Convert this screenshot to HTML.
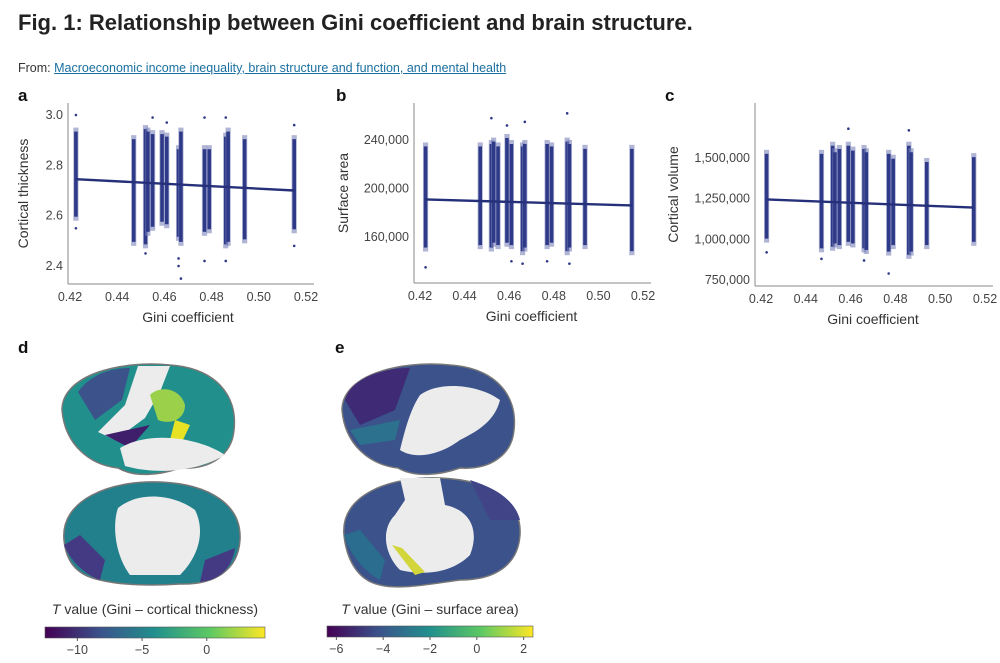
<!DOCTYPE html>
<html><head><meta charset="utf-8">
<style>
body{margin:0;background:#fff;width:1000px;height:663px;overflow:hidden;font-family:"Liberation Sans",sans-serif;}
.title{position:absolute;left:18px;top:10px;font-size:22px;font-weight:bold;color:#222;}
.from{position:absolute;left:18px;top:61px;font-size:12.5px;color:#333;}
.from a{color:#1a6fa0;text-decoration:underline;}
svg{position:absolute;left:0;top:0;}
</style></head><body>
<div class="title">Fig. 1: Relationship between Gini coefficient and brain structure.</div>
<div class="from">From: <a>Macroeconomic income inequality, brain structure and function, and mental health</a></div>
<svg id="fig" width="1000" height="663" font-family="Liberation Sans, sans-serif">
<defs>
<linearGradient id="vir" x1="0" x2="1">
<stop offset="0" stop-color="#440154"/><stop offset="0.25" stop-color="#3b528b"/><stop offset="0.5" stop-color="#21908d"/><stop offset="0.75" stop-color="#5dc963"/><stop offset="1" stop-color="#fde725"/>
</linearGradient>
</defs>
<text x="18" y="353" font-size="17" font-weight="bold" fill="#111">d</text>
<text x="335" y="353" font-size="17" font-weight="bold" fill="#111">e</text>
<!-- brains d -->
<g>
<path d="M62,410 C62,375 120,360 170,365 C215,368 238,395 234,430 C232,455 210,470 180,468 C160,475 135,478 118,468 C90,465 65,445 62,410Z" fill="#21908d" stroke="#777" stroke-width="1.5"/>
<path d="M78,392 C90,375 110,368 130,368 L122,400 L95,420 Z" fill="#3b528b"/>
<path d="M138,366 L170,366 L160,392 L145,418 L115,440 L98,432 L125,405Z" fill="#ececec"/>
<path d="M150,395 C160,385 180,388 185,405 C185,420 170,425 158,420Z" fill="#9ad04a"/>
<path d="M175,420 L190,425 L182,442 L170,440Z" fill="#e7e324"/>
<path d="M105,435 L150,425 L130,448Z" fill="#3f1f6b"/>
<path d="M120,448 C150,430 200,438 225,455 C200,470 160,476 125,466Z" fill="#ececec"/>
</g>
<g>
<path d="M64,540 C60,500 110,480 160,482 C210,484 242,505 240,540 C238,570 215,585 180,584 C150,586 120,585 100,580 C75,575 66,560 64,540Z" fill="#22808d" stroke="#777" stroke-width="1.5"/>
<path d="M118,508 C140,490 175,495 195,510 C205,530 200,555 180,575 L130,575 C115,555 112,525 118,508Z" fill="#ececec"/>
<path d="M64,545 C70,560 85,575 100,580 L105,560 L80,535Z" fill="#443a83"/>
<path d="M205,560 L235,548 C232,568 220,580 200,582Z" fill="#443a83"/>
</g>
<!-- brains e -->
<g>
<path d="M342,410 C342,375 400,360 450,365 C495,368 518,395 514,430 C512,455 490,470 460,468 C440,475 415,478 398,468 C370,465 345,445 342,410Z" fill="#3b528b" stroke="#777" stroke-width="1.5"/>
<path d="M345,400 C350,380 380,368 410,368 L395,410 L360,425 Z" fill="#3f2a76"/>
<path d="M420,395 C440,380 480,385 500,400 C495,420 480,430 460,440 C440,455 415,460 400,450 C405,430 410,410 420,395Z" fill="#ececec"/>
<path d="M350,430 L400,420 L395,440 L360,445Z" fill="#2c728e"/>
</g>
<g>
<path d="M344,535 C340,495 390,476 440,478 C490,480 522,500 520,535 C518,565 495,580 460,580 C430,584 400,590 380,585 C355,580 346,555 344,535Z" fill="#3b528b" stroke="#777" stroke-width="1.5"/>
<path d="M400,478 L440,478 L445,505 C470,510 480,530 470,555 C450,575 420,575 400,570 C385,555 380,530 395,515 L405,500Z" fill="#ececec"/>
<path d="M392,545 L402,548 L425,572 L415,575 Z" fill="#d2d63a"/>
<path d="M344,535 C350,555 365,572 380,580 L385,560 L360,530Z" fill="#2a6d8e"/>
<path d="M470,480 C495,488 515,500 520,520 L490,520 Z" fill="#414487"/>
</g>
<!-- colorbars -->
<g>
<text x="155" y="614" font-size="14" fill="#333" text-anchor="middle"><tspan font-style="italic">T</tspan> value (Gini – cortical thickness)</text>
<rect x="45" y="627" width="220" height="11" fill="url(#vir)" stroke="#555" stroke-width="0.6"/>
</g>
<g>
<text x="430" y="614" font-size="14" fill="#333" text-anchor="middle"><tspan font-style="italic">T</tspan> value (Gini – surface area)</text>
<rect x="327" y="626" width="206" height="11" fill="url(#vir)" stroke="#555" stroke-width="0.6"/>
</g>
<g id="plots"></g>
</svg>
<script>
// shared x data: Gini coefficient of each country column
const gini = [0.4225,0.447,0.452,0.453,0.455,0.459,0.461,0.466,0.467,0.477,0.479,0.486,0.487,0.494,0.515];
// panel a: cortical thickness (dense range lo/hi per column)
const aLo = [2.58,2.48,2.47,2.52,2.54,2.56,2.55,2.50,2.48,2.52,2.53,2.47,2.48,2.49,2.53];
const aHi = [2.95,2.92,2.96,2.95,2.94,2.94,2.93,2.88,2.95,2.88,2.88,2.93,2.95,2.92,2.92];
const aOutX = [0.4225,0.4225,0.452,0.455,0.461,0.466,0.466,0.467,0.477,0.477,0.486,0.486,0.515,0.515];
const aOutY = [3.0,2.55,2.45,2.99,2.97,2.40,2.43,2.35,2.99,2.42,2.99,2.42,2.96,2.48];
const aFit = [2.745,2.70];
const aTicks = [2.4,2.6,2.8,3.0];
const aTickLabels = ["2.4","2.6","2.8","3.0"];
// panel b: surface area
const bLo = [148000,150000,148000,152000,150000,152000,150000,145000,148000,150000,152000,145000,148000,150000,145000];
const bHi = [238000,238000,240000,242000,238000,245000,240000,238000,240000,240000,238000,242000,240000,236000,236000];
const bOutX = [0.4225,0.452,0.461,0.466,0.467,0.477,0.486,0.487,0.459];
const bOutY = [135000,258000,140000,138000,255000,140000,262000,138000,252000];
const bFit = [191000,186000];
const bTicks = [160000,200000,240000];
const bTickLabels = ["160,000","200,000","240,000"];
// panel c: cortical volume
const cLo = [980000,920000,930000,950000,940000,960000,950000,920000,910000,900000,940000,880000,900000,940000,960000];
const cHi = [1550000,1550000,1600000,1560000,1580000,1600000,1570000,1580000,1560000,1550000,1520000,1600000,1560000,1500000,1530000];
const cOutX = [0.459,0.466,0.477,0.486,0.4225,0.447];
const cOutY = [1680000,870000,790000,1670000,920000,880000];
const cFit = [1245000,1195000];
const cTicks = [750000,1000000,1250000,1500000];
const cTickLabels = ["750,000","1,000,000","1,250,000","1,500,000"];
const xTicks = [0.42,0.44,0.46,0.48,0.50,0.52];
const xTickLabels = ["0.42","0.44","0.46","0.48","0.50","0.52"];

const NS="http://www.w3.org/2000/svg";
const root=document.getElementById('plots');
function mk(tag,attrs,parent){const e=document.createElementNS(NS,tag);for(const k in attrs)e.setAttribute(k,attrs[k]);(parent||root).appendChild(e);return e;}
const COL="#2e3a87";
function panel(p){
  const g=mk('g',{});
  
  
  const sx=v=>p.x0+(v-0.42)/(0.10)*(p.x1-p.x0);
  const sy=v=>p.yA+(v-p.vA)/(p.vB-p.vA)*(p.yB-p.yA);
  const lbl=mk('text',{x:p.lx,y:p.top-2,'font-size':17,'font-weight':'bold',fill:'#111'},g);lbl.textContent=p.id;
  
  
  mk('line',{x1:p.ax,y1:p.top,x2:p.ax,y2:p.base,stroke:'#888','stroke-width':1},g);
  mk('line',{x1:p.ax,y1:p.base,x2:p.x1+8,y2:p.base,stroke:'#888','stroke-width':1},g);
  xTicks.forEach((t,i)=>{const tx=mk('text',{x:sx(t),y:p.base+17,'font-size':12.5,fill:'#444','text-anchor':'middle'},g);tx.textContent=xTickLabels[i];
    
    });
  p.ticks.forEach((t,i)=>{const tx=mk('text',{x:p.ax-5,y:sy(t)+4,'font-size':12.5,fill:'#444','text-anchor':'end'},g);tx.textContent=p.labels[i];
    
    });
  const xt=mk('text',{x:(p.x0+p.x1)/2,y:p.base+38,'font-size':14,fill:'#333','text-anchor':'middle'},g);xt.textContent='Gini coefficient';
  
  
  const yc=(p.top+p.base)/2;
  const yt=mk('text',{x:p.ytx,y:yc,'font-size':14,fill:'#333','text-anchor':'middle',transform:`rotate(-90 ${p.ytx} ${yc})`},g);yt.textContent=p.ytitle;
  
  
  gini.forEach((gv,i)=>{const x=sx(gv),y1=sy(p.hi[i]),y2=sy(p.lo[i]);
    mk('rect',{x:x-2.6,y:y1,width:5.2,height:y2-y1,fill:'#7c84bb','fill-opacity':0.6},g);
    const r=mk('rect',{x:x-1.8,y:y1+4,width:3.6,height:y2-y1-8,fill:COL},g);
    
    });
  p.ox.forEach((gv,i)=>{const c=mk('circle',{cx:sx(gv),cy:sy(p.oy[i]),r:1.3,fill:COL},g);
    
    });
  const fl=mk('line',{x1:sx(gini[0]),y1:sy(p.fit[0]),x2:sx(gini[gini.length-1]),y2:sy(p.fit[1]),stroke:'#26307a','stroke-width':2.4},g);
  
  
}
panel({id:'a',lx:18,x0:70,x1:306,ax:68,top:103,base:284,vA:3.0,yA:115,vB:2.4,yB:266,ticks:aTicks,labels:aTickLabels,lo:aLo,hi:aHi,ox:aOutX,oy:aOutY,fit:aFit,ytitle:'Cortical thickness',ytx:28});
panel({id:'b',lx:336,x0:420,x1:643,ax:414,top:103,base:283,vA:240000,yA:140,vB:160000,yB:237,ticks:bTicks,labels:bTickLabels,lo:bLo,hi:bHi,ox:bOutX,oy:bOutY,fit:bFit,ytitle:'Surface area',ytx:348});
panel({id:'c',lx:665,x0:761,x1:985,ax:755,top:103,base:286,vA:1500000,yA:158,vB:750000,yB:280,ticks:cTicks,labels:cTickLabels,lo:cLo,hi:cHi,ox:cOutX,oy:cOutY,fit:cFit,ytitle:'Cortical volume',ytx:678});

// colorbar ticks
const cbdTicks=[-10,-5,0], cbeTicks=[-6,-4,-2,0,2];
function cbar(ticks,vmin,vmax,x0,x1,y){
  ticks.forEach(t=>{const x=x0+(t-vmin)/(vmax-vmin)*(x1-x0);
    mk('line',{x1:x,y1:y,x2:x,y2:y+3,stroke:'#555'});
    const tx=mk('text',{x:x,y:y+16,'font-size':12.5,fill:'#444','text-anchor':'middle'});tx.textContent=String(t).replace('-','−');
    
    });
}
cbar(cbdTicks,-12.5,4.5,45,265,638);
cbar(cbeTicks,-6.4,2.4,327,533,637);
</script>
</body></html>
